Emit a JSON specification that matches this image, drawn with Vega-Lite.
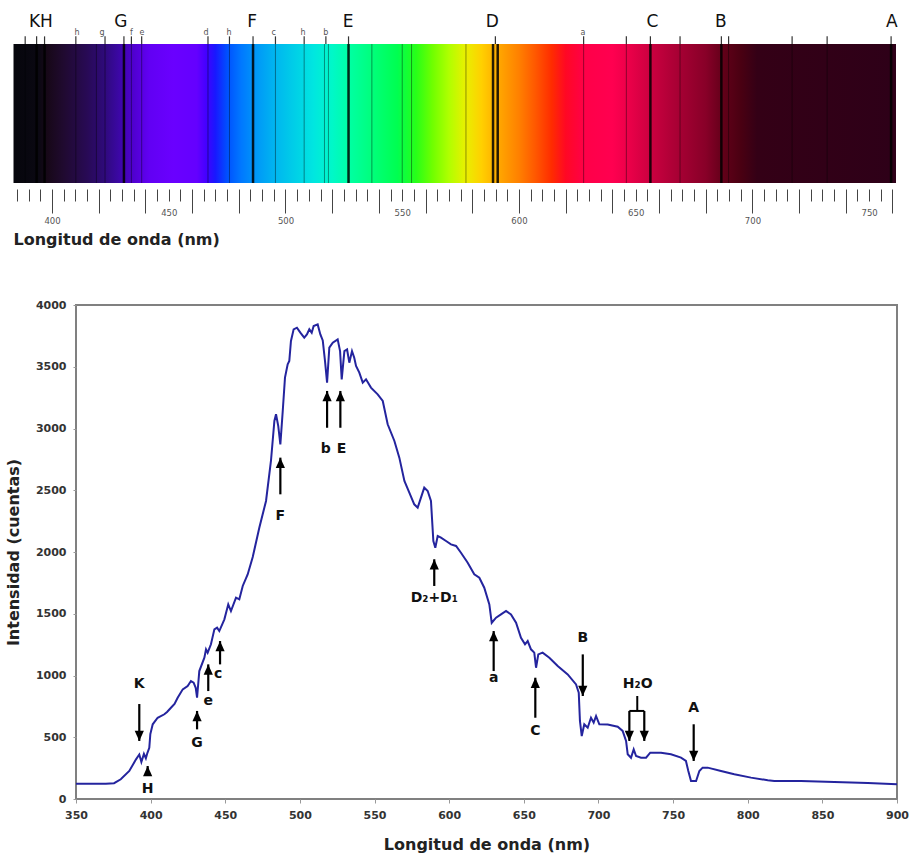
{
  "$schema": "https://vega.github.io/schema/vega-lite/v6.json",
  "padding": {"left": 3, "top": 8, "right": 5, "bottom": 5},
  "background": "white",
  "config": {"font": "DejaVu Sans", "view": {"stroke": null}},
  "spacing": 50,
  "datasets": {
    "band": [{"wl": 383.5, "wl2": 761.5}],
    "flines": [
      {"wl": 393.4, "kind": "major"}, {"wl": 396.8, "kind": "major"}, {"wl": 430.8, "kind": "major"},
      {"wl": 486.1, "kind": "major"}, {"wl": 527.0, "kind": "major"}, {"wl": 588.9, "kind": "major"},
      {"wl": 590.9, "kind": "major"}, {"wl": 656.3, "kind": "major"}, {"wl": 686.7, "kind": "major"},
      {"wl": 759.4, "kind": "major"},
      {"wl": 388.5, "kind": "minor"}, {"wl": 410.2, "kind": "minor"}, {"wl": 419.0, "kind": "minor"},
      {"wl": 422.7, "kind": "minor"}, {"wl": 434.0, "kind": "minor"}, {"wl": 438.4, "kind": "minor"},
      {"wl": 466.8, "kind": "minor"}, {"wl": 476.0, "kind": "minor"}, {"wl": 495.7, "kind": "minor"},
      {"wl": 508.0, "kind": "minor"}, {"wl": 516.7, "kind": "minor"}, {"wl": 518.4, "kind": "minor"},
      {"wl": 537.0, "kind": "minor"}, {"wl": 550.0, "kind": "minor"}, {"wl": 554.0, "kind": "minor"},
      {"wl": 577.3, "kind": "minor"}, {"wl": 627.7, "kind": "minor"}, {"wl": 646.0, "kind": "minor"},
      {"wl": 669.0, "kind": "minor"}, {"wl": 689.8, "kind": "minor"}, {"wl": 717.0, "kind": "minor"},
      {"wl": 732.0, "kind": "minor"}
    ],
    "fticks": [
      {"wl": 388.5}, {"wl": 393.4}, {"wl": 396.8}, {"wl": 410.2}, {"wl": 422.7}, {"wl": 430.8},
      {"wl": 434.0}, {"wl": 438.4}, {"wl": 466.8}, {"wl": 476.0}, {"wl": 486.1}, {"wl": 495.7},
      {"wl": 508.0}, {"wl": 517.3}, {"wl": 527.0}, {"wl": 589.9}, {"wl": 627.7}, {"wl": 646.0},
      {"wl": 656.3}, {"wl": 669.0}, {"wl": 686.7}, {"wl": 689.8}, {"wl": 717.0}, {"wl": 732.0},
      {"wl": 759.4}
    ],
    "bigletters": [
      {"wl": 392.5, "t": "K"}, {"wl": 397.6, "t": "H"}, {"wl": 429.5, "t": "G"}, {"wl": 485.7, "t": "F"},
      {"wl": 526.8, "t": "E"}, {"wl": 588.6, "t": "D"}, {"wl": 657.2, "t": "C"}, {"wl": 686.5, "t": "B"},
      {"wl": 759.7, "t": "A"}
    ],
    "smallletters": [
      {"wl": 410.7, "t": "h"}, {"wl": 421.4, "t": "g"}, {"wl": 434.0, "t": "f"}, {"wl": 438.5, "t": "e"},
      {"wl": 466.0, "t": "d"}, {"wl": 475.8, "t": "h"}, {"wl": 495.0, "t": "c"}, {"wl": 507.5, "t": "h"},
      {"wl": 517.3, "t": "b"}, {"wl": 627.4, "t": "a"}
    ],
    "spectrum": [
      {"wl": 350, "val": 124}, {"wl": 360, "val": 124}, {"wl": 370, "val": 123}, {"wl": 375.5, "val": 128},
      {"wl": 380, "val": 160}, {"wl": 385.7, "val": 227}, {"wl": 390.2, "val": 321}, {"wl": 392.4, "val": 360},
      {"wl": 393.8, "val": 300}, {"wl": 395.5, "val": 365}, {"wl": 396.8, "val": 330}, {"wl": 397.8, "val": 372},
      {"wl": 399.1, "val": 415}, {"wl": 399.8, "val": 526}, {"wl": 401.4, "val": 605}, {"wl": 404.7, "val": 658},
      {"wl": 409.2, "val": 686}, {"wl": 411, "val": 705}, {"wl": 413.6, "val": 739}, {"wl": 416, "val": 770},
      {"wl": 418.1, "val": 820}, {"wl": 421.5, "val": 888}, {"wl": 424.8, "val": 915}, {"wl": 427, "val": 955},
      {"wl": 428.8, "val": 942}, {"wl": 430.2, "val": 900}, {"wl": 431.1, "val": 820}, {"wl": 432.6, "val": 1036},
      {"wl": 436, "val": 1144}, {"wl": 437.1, "val": 1212}, {"wl": 438.2, "val": 1185}, {"wl": 440.4, "val": 1253},
      {"wl": 442.7, "val": 1374}, {"wl": 444.5, "val": 1387}, {"wl": 446, "val": 1360}, {"wl": 449.4, "val": 1455},
      {"wl": 452, "val": 1576}, {"wl": 453.8, "val": 1522}, {"wl": 457.2, "val": 1630}, {"wl": 459.4, "val": 1617},
      {"wl": 461.7, "val": 1725}, {"wl": 465, "val": 1818}, {"wl": 468.4, "val": 1960}, {"wl": 472.8, "val": 2197},
      {"wl": 477.3, "val": 2413}, {"wl": 480.6, "val": 2737}, {"wl": 482.9, "val": 3061}, {"wl": 484, "val": 3115},
      {"wl": 485.5, "val": 3020}, {"wl": 486.9, "val": 2872}, {"wl": 488.5, "val": 3142}, {"wl": 490, "val": 3412},
      {"wl": 491.8, "val": 3520}, {"wl": 492.9, "val": 3547}, {"wl": 494, "val": 3709}, {"wl": 495.8, "val": 3803},
      {"wl": 498, "val": 3816}, {"wl": 500.3, "val": 3776}, {"wl": 502.9, "val": 3735}, {"wl": 504.7, "val": 3762},
      {"wl": 506.3, "val": 3803}, {"wl": 507.9, "val": 3776}, {"wl": 509.2, "val": 3830}, {"wl": 511.9, "val": 3843},
      {"wl": 513.7, "val": 3762}, {"wl": 515.3, "val": 3713}, {"wl": 516.8, "val": 3547}, {"wl": 518.2, "val": 3371},
      {"wl": 519.7, "val": 3655}, {"wl": 522, "val": 3695}, {"wl": 525.3, "val": 3722}, {"wl": 526.9, "val": 3627},
      {"wl": 528, "val": 3398}, {"wl": 529.8, "val": 3627}, {"wl": 531.6, "val": 3640}, {"wl": 533.1, "val": 3533},
      {"wl": 534.9, "val": 3627}, {"wl": 536.4, "val": 3573}, {"wl": 537.6, "val": 3506}, {"wl": 539.8, "val": 3452},
      {"wl": 542.1, "val": 3371}, {"wl": 544.3, "val": 3398}, {"wl": 547.6, "val": 3331}, {"wl": 552.1, "val": 3277},
      {"wl": 555.5, "val": 3223}, {"wl": 558.8, "val": 3034}, {"wl": 563.3, "val": 2899}, {"wl": 566.6, "val": 2764},
      {"wl": 570, "val": 2575}, {"wl": 573.3, "val": 2480}, {"wl": 576.6, "val": 2386}, {"wl": 578.9, "val": 2359},
      {"wl": 581.1, "val": 2440}, {"wl": 583.3, "val": 2521}, {"wl": 585.6, "val": 2494}, {"wl": 587.8, "val": 2413},
      {"wl": 589.4, "val": 2089}, {"wl": 590.7, "val": 2035}, {"wl": 592.3, "val": 2130}, {"wl": 594.5, "val": 2116},
      {"wl": 597.9, "val": 2089}, {"wl": 601.2, "val": 2062}, {"wl": 604.6, "val": 2049}, {"wl": 607.9, "val": 1994},
      {"wl": 612.4, "val": 1913}, {"wl": 616.8, "val": 1819}, {"wl": 620.2, "val": 1792}, {"wl": 623.5, "val": 1711},
      {"wl": 626.9, "val": 1576}, {"wl": 628.5, "val": 1427}, {"wl": 631.4, "val": 1468}, {"wl": 634.7, "val": 1495},
      {"wl": 638.1, "val": 1522}, {"wl": 641.4, "val": 1495}, {"wl": 644.8, "val": 1427}, {"wl": 648.1, "val": 1306},
      {"wl": 650.8, "val": 1252}, {"wl": 652.6, "val": 1279}, {"wl": 654.8, "val": 1212}, {"wl": 657, "val": 1185},
      {"wl": 658.2, "val": 1063}, {"wl": 659.7, "val": 1171}, {"wl": 662.6, "val": 1185}, {"wl": 667.1, "val": 1144},
      {"wl": 672.7, "val": 1077}, {"wl": 679.4, "val": 1009}, {"wl": 685, "val": 928}, {"wl": 686.8, "val": 860},
      {"wl": 687.6, "val": 632}, {"wl": 688.8, "val": 510}, {"wl": 690.5, "val": 605}, {"wl": 692.8, "val": 577},
      {"wl": 695, "val": 658}, {"wl": 696.8, "val": 618}, {"wl": 698.4, "val": 672}, {"wl": 700.6, "val": 605},
      {"wl": 706.2, "val": 603}, {"wl": 712.9, "val": 585}, {"wl": 716.2, "val": 551}, {"wl": 718.5, "val": 470},
      {"wl": 719.6, "val": 362}, {"wl": 721.8, "val": 334}, {"wl": 723.6, "val": 402}, {"wl": 725.2, "val": 348},
      {"wl": 728.5, "val": 335}, {"wl": 731.9, "val": 335}, {"wl": 734.7, "val": 375}, {"wl": 741.9, "val": 375},
      {"wl": 748.6, "val": 362}, {"wl": 755.3, "val": 335}, {"wl": 758.6, "val": 308}, {"wl": 760.2, "val": 227},
      {"wl": 762, "val": 146}, {"wl": 765.4, "val": 146}, {"wl": 767.6, "val": 227}, {"wl": 769.8, "val": 254},
      {"wl": 773.2, "val": 254}, {"wl": 782.1, "val": 227}, {"wl": 791, "val": 200}, {"wl": 802.2, "val": 173},
      {"wl": 813.4, "val": 152}, {"wl": 817.8, "val": 146}, {"wl": 835.7, "val": 146}, {"wl": 858, "val": 138},
      {"wl": 880.4, "val": 130}, {"wl": 900, "val": 119}
    ],
    "arrows": [
      {"wl": 392.4, "val": 470, "val2": 769, "dir": "down"},
      {"wl": 398.0, "val": 267, "val2": 213, "dir": "up"},
      {"wl": 431.1, "val": 713, "val2": 564, "dir": "up"},
      {"wl": 438.6, "val": 1090, "val2": 874, "dir": "up"},
      {"wl": 446.5, "val": 1279, "val2": 1090, "dir": "up"},
      {"wl": 486.9, "val": 2764, "val2": 2467, "dir": "up"},
      {"wl": 518.2, "val": 3304, "val2": 3006, "dir": "up"},
      {"wl": 527.1, "val": 3304, "val2": 3006, "dir": "up"},
      {"wl": 590.0, "val": 1941, "val2": 1725, "dir": "up"},
      {"wl": 629.8, "val": 1360, "val2": 1036, "dir": "up"},
      {"wl": 657.7, "val": 982, "val2": 658, "dir": "up"},
      {"wl": 689.5, "val": 834, "val2": 1171, "dir": "down"},
      {"wl": 720.7, "val": 470, "val2": 713, "dir": "down"},
      {"wl": 730.7, "val": 470, "val2": 713, "dir": "down"},
      {"wl": 763.8, "val": 308, "val2": 605, "dir": "down"}
    ],
    "bracket": [
      {"wl": 720.7, "wl2": 730.7, "val": 713, "val2": 713},
      {"wl": 726.0, "wl2": 726.0, "val": 713, "val2": 834}
    ],
    "labels": [
      {"wl": 392.4, "val": 931, "t": "K"},
      {"wl": 398.0, "val": 85, "t": "H"},
      {"wl": 431.1, "val": 456, "t": "G"},
      {"wl": 438.6, "val": 793, "t": "e"},
      {"wl": 445.3, "val": 1009, "t": "c"},
      {"wl": 486.9, "val": 2291, "t": "F"},
      {"wl": 517.3, "val": 2832, "t": "b"},
      {"wl": 527.8, "val": 2832, "t": "E"},
      {"wl": 590.0, "val": 1630, "t": "D₂+D₁"},
      {"wl": 629.8, "val": 982, "t": "a"},
      {"wl": 657.7, "val": 551, "t": "C"},
      {"wl": 689.5, "val": 1306, "t": "B"},
      {"wl": 726.3, "val": 928, "t": "H₂O"},
      {"wl": 763.8, "val": 739, "t": "A"}
    ],
    "empty": []
  },
  "vconcat": [
    {
      "width": 893,
      "height": 175,
      "view": {"stroke": null},
      "encoding": {
        "x": {
          "field": "wl",
          "type": "quantitative",
          "scale": {"domain": [379, 761.5], "nice": false, "zero": false},
          "axis": {
            "values": [385, 390, 395, 400, 405, 410, 415, 420, 425, 430, 435, 440, 445, 450, 455, 460, 465, 470, 475, 480, 485, 490, 495, 500, 505, 510, 515, 520, 525, 530, 535, 540, 545, 550, 555, 560, 565, 570, 575, 580, 585, 590, 595, 600, 605, 610, 615, 620, 625, 630, 635, 640, 645, 650, 655, 660, 665, 670, 675, 680, 685, 690, 695, 700, 705, 710, 715, 720, 725, 730, 735, 740, 745, 750, 755, 760],
            "format": "d",
            "labelExpr": "datum.value % 50 === 0 ? datum.label : ''",
            "tickSize": {"condition": {"test": "datum.value % 20 === 0", "value": 24}, "value": 12},
            "tickColor": "#444",
            "tickWidth": 1,
            "domain": false,
            "grid": false,
            "offset": 6,
            "labelFontSize": 8.5,
            "labelColor": "#555",
            "labelPadding": {"condition": {"test": "datum.value % 20 === 0", "value": 3}, "value": 7},
            "labelFlush": false,
            "labelOverlap": false,
            "title": "Longitud de onda (nm)",
            "titleFontSize": 16,
            "titleFontWeight": "bold",
            "titleColor": "#222",
            "titleX": 10,
            "titleAlign": "left",
            "titleAnchor": "start",
            "titlePadding": 7
          }
        }
      },
      "layer": [
        {
          "data": {"name": "band"},
          "mark": {
            "type": "rect",
            "color": {
              "gradient": "linear", "x1": 0, "y1": 0, "x2": 1, "y2": 0,
              "stops": [
                {"offset": 0.0, "color": "#06060c"},
                {"offset": 0.0278, "color": "#0a0812"},
                {"offset": 0.0384, "color": "#170818"},
                {"offset": 0.0569, "color": "#200a30"},
                {"offset": 0.0833, "color": "#280a55"},
                {"offset": 0.1019, "color": "#2e0a78"},
                {"offset": 0.1177, "color": "#3a08a0"},
                {"offset": 0.1362, "color": "#5000d0"},
                {"offset": 0.1548, "color": "#6200f4"},
                {"offset": 0.1812, "color": "#6a00ff"},
                {"offset": 0.2077, "color": "#6400ff"},
                {"offset": 0.2183, "color": "#4400ff"},
                {"offset": 0.2288, "color": "#1818ff"},
                {"offset": 0.2421, "color": "#0050ff"},
                {"offset": 0.2579, "color": "#0078ff"},
                {"offset": 0.2738, "color": "#0095f8"},
                {"offset": 0.2950, "color": "#00b4f0"},
                {"offset": 0.3161, "color": "#00cce8"},
                {"offset": 0.3399, "color": "#00e6e0"},
                {"offset": 0.3611, "color": "#00f8c8"},
                {"offset": 0.3823, "color": "#00ffa0"},
                {"offset": 0.4087, "color": "#00ff78"},
                {"offset": 0.4352, "color": "#00ff50"},
                {"offset": 0.4563, "color": "#28ff18"},
                {"offset": 0.4749, "color": "#70ff00"},
                {"offset": 0.4934, "color": "#b0ff00"},
                {"offset": 0.5119, "color": "#e8f000"},
                {"offset": 0.5304, "color": "#ffd000"},
                {"offset": 0.5516, "color": "#ffa400"},
                {"offset": 0.5728, "color": "#ff8000"},
                {"offset": 0.5913, "color": "#ff5800"},
                {"offset": 0.6098, "color": "#ff2c00"},
                {"offset": 0.6257, "color": "#ff0824"},
                {"offset": 0.6468, "color": "#ff0048"},
                {"offset": 0.6786, "color": "#ff0050"},
                {"offset": 0.6997, "color": "#e80048"},
                {"offset": 0.7209, "color": "#cc0040"},
                {"offset": 0.7526, "color": "#a80034"},
                {"offset": 0.7844, "color": "#880028"},
                {"offset": 0.8056, "color": "#600018"},
                {"offset": 0.8241, "color": "#4a0012"},
                {"offset": 0.8426, "color": "#340016"},
                {"offset": 1.0, "color": "#2e0018"}
              ]
            }
          },
          "encoding": {
            "x2": {"field": "wl2"},
            "y": {"datum": 0, "type": "quantitative", "scale": {"domain": [0, 1.259], "nice": false, "zero": false}, "axis": null},
            "y2": {"datum": 1}
          }
        },
        {
          "data": {"name": "flines"},
          "mark": {"type": "rule", "color": "#000000"},
          "encoding": {
            "y": {"datum": 0, "type": "quantitative", "scale": {"domain": [0, 1.259], "nice": false, "zero": false}, "axis": null},
            "y2": {"datum": 1},
            "strokeWidth": {"field": "kind", "type": "nominal", "scale": {"domain": ["major", "minor"], "range": [2.5, 1]}, "legend": null},
            "opacity": {"field": "kind", "type": "nominal", "scale": {"domain": ["major", "minor"], "range": [0.85, 0.4]}, "legend": null}
          }
        },
        {
          "data": {"name": "fticks"},
          "mark": {"type": "rule", "color": "#333333", "strokeWidth": 1.2},
          "encoding": {
            "y": {"datum": 1, "type": "quantitative", "scale": {"domain": [0, 1.259], "nice": false, "zero": false}, "axis": null},
            "y2": {"datum": 1.055}
          }
        },
        {
          "data": {"name": "bigletters"},
          "mark": {"type": "text", "fontSize": 17, "color": "#111", "align": "center", "baseline": "middle"},
          "encoding": {
            "y": {"datum": 1.16, "type": "quantitative", "scale": {"domain": [0, 1.259], "nice": false, "zero": false}, "axis": null},
            "text": {"field": "t"}
          }
        },
        {
          "data": {"name": "smallletters"},
          "mark": {"type": "text", "fontSize": 8, "color": "#555", "align": "center", "baseline": "middle"},
          "encoding": {
            "y": {"datum": 1.08, "type": "quantitative", "scale": {"domain": [0, 1.259], "nice": false, "zero": false}, "axis": null},
            "text": {"field": "t"}
          }
        }
      ]
    },
    {
      "spacing": 0,
      "hconcat": [
        {
          "width": 1,
          "height": 1,
          "view": {"stroke": null},
          "data": {"name": "empty"},
          "mark": "point"
        },
        {
          "width": 821,
          "height": 494,
          "view": {"stroke": "#808080", "strokeWidth": 2},
          "encoding": {
            "x": {
              "field": "wl",
              "type": "quantitative",
              "scale": {"domain": [350, 900], "nice": false, "zero": false},
              "axis": {
                "values": [350, 400, 450, 500, 550, 600, 650, 700, 750, 800, 850, 900],
                "format": "d",
                "labelFontSize": 11,
                "labelFontWeight": "bold",
                "labelColor": "#333",
                "labelPadding": 6,
                "labelFlush": false,
                "tickSize": 4,
                "tickColor": "#999",
                "domain": false,
                "grid": false,
                "title": "Longitud de onda (nm)",
                "titleFontSize": 16,
                "titleFontWeight": "bold",
                "titleColor": "#222",
                "titlePadding": 16
              }
            },
            "y": {
              "field": "val",
              "type": "quantitative",
              "scale": {"domain": [0, 4000], "nice": false},
              "axis": {
                "values": [0, 500, 1000, 1500, 2000, 2500, 3000, 3500, 4000],
                "format": "d",
                "labelFontSize": 11,
                "labelFontWeight": "bold",
                "labelColor": "#333",
                "labelPadding": 7,
                "tickSize": 3,
                "tickColor": "#999",
                "domain": false,
                "grid": false,
                "title": "Intensidad (cuentas)",
                "titleFontSize": 16,
                "titleFontWeight": "bold",
                "titleColor": "#222",
                "titlePadding": 14
              }
            }
          },
          "layer": [
            {
              "data": {"name": "spectrum"},
              "mark": {"type": "line", "color": "#24249e", "strokeWidth": 2}
            },
            {
              "data": {"name": "arrows"},
              "mark": {"type": "rule", "color": "#000000", "strokeWidth": 2.2},
              "encoding": {"y2": {"field": "val2"}}
            },
            {
              "data": {"name": "bracket"},
              "mark": {"type": "rule", "color": "#000000", "strokeWidth": 2},
              "encoding": {"x2": {"field": "wl2"}, "y2": {"field": "val2"}}
            },
            {
              "data": {"name": "arrows"},
              "mark": {"type": "point", "filled": true, "color": "#000000", "opacity": 1, "size": 420},
              "encoding": {
                "shape": {"field": "dir", "type": "nominal", "scale": {"domain": ["up", "down"], "range": ["M0,0L0.45,1L-0.45,1Z", "M0,0L0.45,-1L-0.45,-1Z"]}, "legend": null}
              }
            },
            {
              "data": {"name": "labels"},
              "mark": {"type": "text", "fontSize": 14, "fontWeight": "bold", "color": "#111", "align": "center", "baseline": "middle"},
              "encoding": {"text": {"field": "t"}}
            }
          ]
        }
      ]
    }
  ]
}
